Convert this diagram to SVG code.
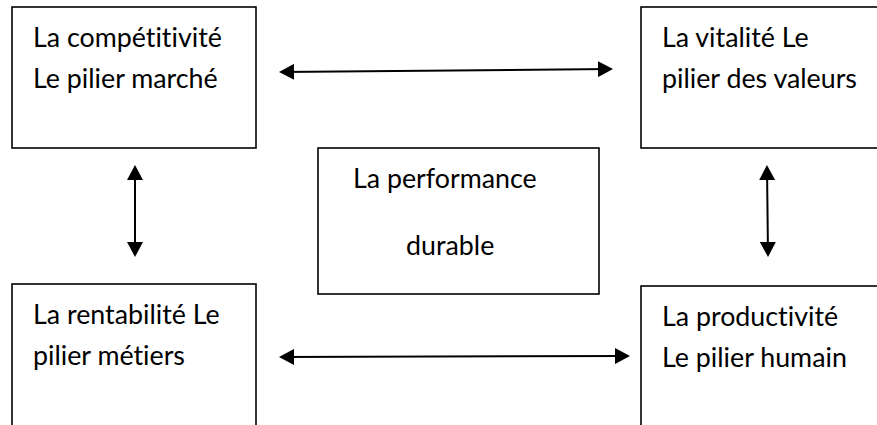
<svg xmlns="http://www.w3.org/2000/svg" width="877" height="425" viewBox="0 0 877 425">
<style>
.box{fill:#fff;stroke:#000;stroke-width:1.6}
.t{font-family:Lato,"Open Sans","Liberation Sans",sans-serif;font-size:26.8px;fill:#000;font-variant-ligatures:none;font-feature-settings:"liga" 0,"dlig" 0}
.c{stroke:#000;stroke-width:2;fill:none;marker-start:url(#ah);marker-end:url(#ah)}
</style>
<defs>
<marker id="ah" markerUnits="userSpaceOnUse" markerWidth="16" markerHeight="16" refX="13" refY="8" orient="auto-start-reverse" viewBox="0 0 16 16">
<path d="M0,0 L15,8 L0,16 z" fill="#000"/>
</marker>
</defs>
<rect width="877" height="425" fill="#fff"/>
<g id="competitivite">
<rect class="box" x="12" y="7" width="244" height="141"/>
<text class="t" x="33" y="47">La compétitivité</text>
<text class="t" x="33" y="88">Le pilier marché</text>
</g>
<g id="vitalite">
<rect class="box" x="641" y="7" width="250" height="141"/>
<text class="t" x="662" y="47">La vitalité Le</text>
<text class="t" x="662" y="88">pilier des valeurs</text>
</g>
<g id="performance">
<rect class="box" x="318" y="148" width="281" height="146"/>
<text class="t" x="353" y="188">La performance</text>
<text class="t" x="406" y="255">durable</text>
</g>
<g id="rentabilite">
<rect class="box" x="12" y="284" width="244" height="160"/>
<text class="t" x="33" y="324">La rentabilité Le</text>
<text class="t" x="33" y="365">pilier métiers</text>
</g>
<g id="productivite">
<rect class="box" x="641" y="286" width="250" height="160"/>
<text class="t" x="662" y="326">La productivité</text>
<text class="t" x="662" y="367">Le pilier humain</text>
</g>
<g id="connectors">
<line class="c" x1="281" y1="72" x2="611" y2="69"/>
<line class="c" x1="281" y1="357" x2="628" y2="356"/>
<line class="c" x1="135" y1="167" x2="135" y2="255"/>
<line class="c" x1="767" y1="167" x2="768" y2="255"/>
</g>
</svg>
